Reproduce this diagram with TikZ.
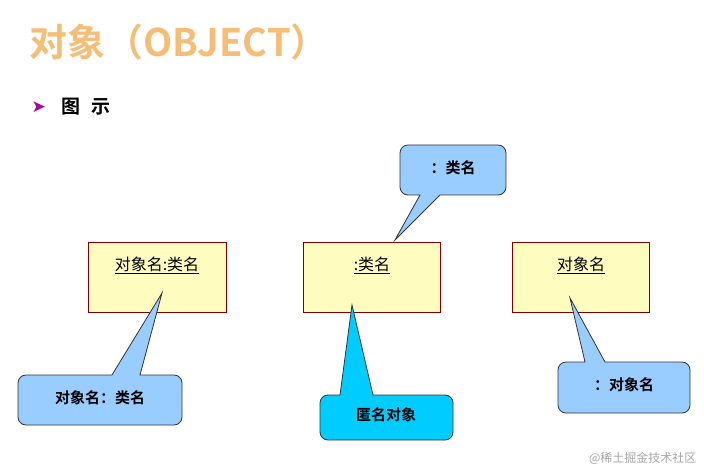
\documentclass[tikz,border=0pt]{standalone}
\usepackage{fontspec}
\newfontfamily\cjk{Noto Sans CJK SC}
\newfontfamily\cjkb{Noto Sans CJK SC Bold}
\newfontfamily\dejavu{DejaVu Sans}
\definecolor{callblue}{HTML}{99CCFF}
\definecolor{callcyan}{HTML}{00CCFF}
\definecolor{titleor}{HTML}{F4BE78}
\begin{document}
\begin{tikzpicture}[x=1pt,y=-1pt,
  objbox/.style={draw=red!50!black,fill=yellow!25,line width=0.8pt},
  callout/.style={draw=black!80,line width=0.8pt},
  lbl/.style={font=\cjkb\fontsize{15}{17}\selectfont}]
\useasboundingbox (0,0) rectangle (704,473);
% title
\node[anchor=west,text=titleor,font=\cjkb\fontsize{38}{42}\selectfont] (title) at (26,42) {对象（OBJECT）};
\node[anchor=west,text=violet!70!magenta,font=\dejavu\fontsize{17}{17}\selectfont] (arr) at (28,107) {➤};
\node[anchor=west,font=\cjkb\fontsize{19}{22}\selectfont] (tushi) at (58,107) {图\hspace{0.6em}示};
% object boxes
\draw[objbox] (88,242) rectangle (226,312);
\node[font=\cjk\fontsize{16}{18}\selectfont] (o1) at (157,265) {\underline{对象名:类名}};
\draw[objbox] (303,242) rectangle (440,312);
\node[font=\cjk\fontsize{16}{18}\selectfont] (o2) at (372,265) {\underline{:类名}};
\draw[objbox] (512,242) rectangle (649,312);
\node[font=\cjk\fontsize{16}{18}\selectfont] (o3) at (581,265) {\underline{对象名}};
% top callout
\draw[callout,fill=callblue] (420,195) -- (395,240) -- (440,195)
  [rounded corners=8pt] -- (506,195) -- (506,145) -- (400,145) -- (400,195) [sharp corners] -- cycle;
\node[lbl] (c1) at (453,168) {：类名};
% left callout
\draw[callout,fill=callblue] (140,375) -- (162,293) -- (112,375)
  [rounded corners=8pt] -- (18,375) -- (18,425) -- (182,425) -- (182,375) [sharp corners] -- cycle;
\node[lbl] (c2) at (100,398) {对象名：类名};
% middle callout
\draw[callout,fill=callcyan] (373,395) -- (352,305) -- (340,395)
  [rounded corners=8pt] -- (320,395) -- (320,440) -- (453,440) -- (453,395) [sharp corners] -- cycle;
\node[lbl] (c3) at (386,415) {匿名对象};
% right callout
\draw[callout,fill=callblue] (605,362) -- (570,298) -- (585,362)
  [rounded corners=8pt] -- (558,362) -- (558,413) -- (690,413) -- (690,362) [sharp corners] -- cycle;
\node[lbl] (c4) at (624,385) {：对象名};
% watermark
\node[anchor=east,text=gray!70,font=\cjk\fontsize{12}{14}\selectfont] (wm) at (700,458) {@稀土掘金技术社区};
\end{tikzpicture}
\end{document}
